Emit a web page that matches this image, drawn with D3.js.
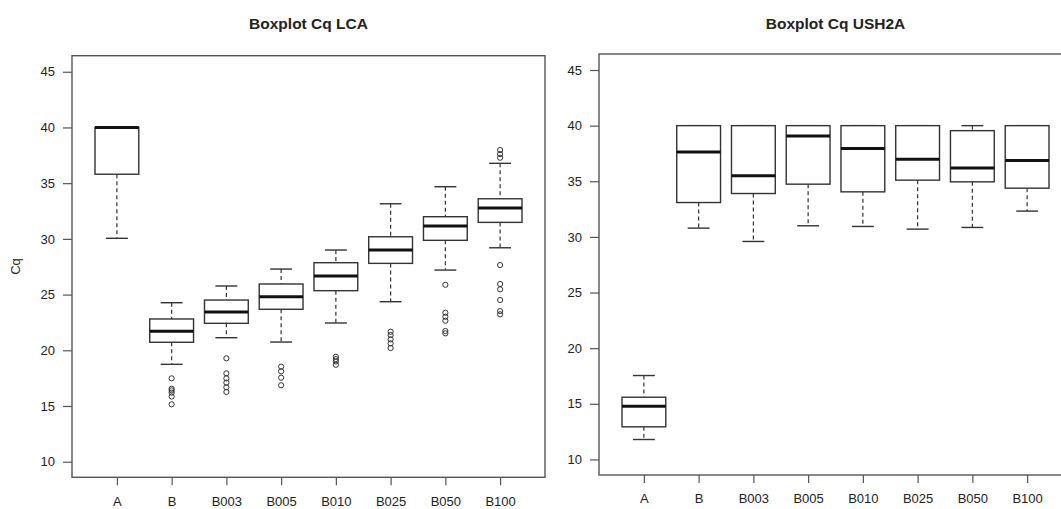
<!DOCTYPE html>
<html>
<head>
<meta charset="utf-8">
<script src="https://cdn.jsdelivr.net/npm/d3@7"></script>
<style>
  html, body { margin: 0; padding: 0; background: #fff; }
  svg { display: block; }
  text { font-family: "Liberation Sans", Arial, sans-serif; fill: #222; }
</style>
</head>
<body>
<svg id="chart" width="1061" height="509"></svg>
<script>
// Sample groups shared by both panels
const categories = ["A", "B", "B003", "B005", "B010", "B025", "B050", "B100"];
const yTicks = [10, 15, 20, 25, 30, 35, 40, 45];

// LCA: five-number summaries (whisker low, Q1, median, Q3, whisker high) and outliers
const lcaLow    = [30.05, 18.74, 21.13, 20.74, 22.45, 24.36, 27.20, 29.20];
const lcaQ1     = [35.80, 20.72, 22.42, 23.68, 25.35, 27.80, 29.87, 31.48];
const lcaMedian = [40.00, 21.70, 23.43, 24.81, 26.66, 29.00, 31.15, 32.77];
const lcaQ3     = [40.00, 22.81, 24.51, 25.95, 27.86, 30.19, 31.99, 33.60];
const lcaHigh   = [40.00, 24.27, 25.77, 27.29, 29.00, 33.15, 34.68, 36.78];
const lcaOutliers = [
  [],
  [17.48, 16.55, 16.40, 16.20, 15.85, 15.15],
  [19.28, 17.93, 17.48, 17.09, 16.68, 16.26],
  [18.53, 18.11, 17.54, 16.86],
  [19.42, 19.20, 19.00, 18.70],
  [21.67, 21.37, 20.98, 20.62, 20.20],
  [25.88, 23.37, 23.01, 22.65, 21.73, 21.52],
  [37.97, 37.61, 37.28, 27.65, 25.95, 25.47, 24.51, 23.52, 23.23]
];

// USH2A: five-number summaries and outliers
const ushLow    = [11.79, 30.79, 29.59, 31.00, 30.94, 30.70, 30.85, 32.32];
const ushQ1     = [12.93, 33.09, 33.90, 34.74, 34.05, 35.10, 34.95, 34.38];
const ushMedian = [14.78, 37.64, 35.49, 39.08, 37.94, 36.98, 36.20, 36.86];
const ushQ3     = [15.59, 40.00, 40.00, 40.00, 40.00, 40.00, 39.55, 40.00];
const ushHigh   = [17.54, 40.00, 40.00, 40.00, 40.00, 40.00, 40.00, 40.00];
const ushOutliers = [[], [], [], [], [], [], [], []];

const svg = d3.select("#chart");

function boxPanel(cfg) {
  const { left, right, top, bottom, title, showYLabel,
          low, q1, median, q3, high, outliers } = cfg;

  const x = d3.scalePoint().domain(categories).range([left, right]).padding(0.82);
  const y = d3.scaleLinear().domain([8.6, 46.44]).range([bottom, top]);

  const step = x.step();
  const boxW = step * 0.8;
  const capW = boxW * 0.5;

  const g = svg.append("g");

  // Title
  g.append("text")
    .attr("x", (left + right) / 2)
    .attr("y", 29)
    .attr("text-anchor", "middle")
    .style("font-size", "15.5px")
    .style("font-weight", "bold")
    .text(title);

  // Y axis
  const yAxis = g.append("g")
    .attr("transform", `translate(${left},0)`)
    .call(d3.axisLeft(y).tickValues(yTicks).tickSize(9).tickPadding(8));
  yAxis.select(".domain").remove();
  yAxis.selectAll("line").attr("stroke", "#555").attr("stroke-width", 1.2);
  yAxis.selectAll("text").style("font-size", "13px").attr("fill", "#222")
    .style("font-family", "'Liberation Sans', Arial, sans-serif");

  // X axis
  const xAxis = g.append("g")
    .attr("transform", `translate(0,${bottom})`)
    .call(d3.axisBottom(x).tickSize(8).tickPadding(11));
  xAxis.select(".domain").remove();
  xAxis.selectAll("line").attr("stroke", "#555").attr("stroke-width", 1.2);
  xAxis.selectAll("text").style("font-size", "13px").attr("fill", "#222")
    .style("font-family", "'Liberation Sans', Arial, sans-serif");

  if (showYLabel) {
    g.append("text")
      .attr("transform", `translate(20,${(top + bottom) / 2}) rotate(-90)`)
      .attr("text-anchor", "middle")
      .style("font-size", "13px")
      .text("Cq");
  }

  const rows = categories.map((c, i) => ({
    c, low: low[i], q1: q1[i], med: median[i], q3: q3[i], high: high[i], out: outliers[i]
  }));

  const box = g.selectAll(".box").data(rows).join("g").attr("class", "box");

  // Whiskers (dashed)
  box.append("line")
    .attr("x1", d => x(d.c)).attr("x2", d => x(d.c))
    .attr("y1", d => y(d.high)).attr("y2", d => y(d.q3))
    .attr("stroke", "#333").attr("stroke-width", 1.2).attr("stroke-dasharray", "4,3");
  box.append("line")
    .attr("x1", d => x(d.c)).attr("x2", d => x(d.c))
    .attr("y1", d => y(d.q1)).attr("y2", d => y(d.low))
    .attr("stroke", "#333").attr("stroke-width", 1.2).attr("stroke-dasharray", "4,3");

  // Staples
  box.append("line")
    .attr("x1", d => x(d.c) - capW / 2).attr("x2", d => x(d.c) + capW / 2)
    .attr("y1", d => y(d.high)).attr("y2", d => y(d.high))
    .attr("stroke", "#333").attr("stroke-width", 1.4);
  box.append("line")
    .attr("x1", d => x(d.c) - capW / 2).attr("x2", d => x(d.c) + capW / 2)
    .attr("y1", d => y(d.low)).attr("y2", d => y(d.low))
    .attr("stroke", "#333").attr("stroke-width", 1.4);

  // Box
  box.append("rect")
    .attr("x", d => x(d.c) - boxW / 2)
    .attr("width", boxW)
    .attr("y", d => y(d.q3))
    .attr("height", d => y(d.q1) - y(d.q3))
    .attr("fill", "#fff")
    .attr("stroke", "#333").attr("stroke-width", 1.4);

  // Median
  box.append("line")
    .attr("x1", d => x(d.c) - boxW / 2).attr("x2", d => x(d.c) + boxW / 2)
    .attr("y1", d => y(d.med)).attr("y2", d => y(d.med))
    .attr("stroke", "#111").attr("stroke-width", 3);

  // Outliers
  box.selectAll("circle").data(d => d.out.map(v => ({ c: d.c, v })))
    .join("circle")
    .attr("cx", d => x(d.c)).attr("cy", d => y(d.v))
    .attr("r", 2.6)
    .attr("fill", "none").attr("stroke", "#333").attr("stroke-width", 1);

  // Plot frame
  g.append("rect")
    .attr("x", left).attr("y", top)
    .attr("width", right - left).attr("height", bottom - top)
    .attr("fill", "none").attr("stroke", "#555").attr("stroke-width", 1.4);
}

boxPanel({
  left: 72, right: 545, top: 55.7, bottom: 477.3,
  title: "Boxplot Cq LCA", showYLabel: true,
  low: lcaLow, q1: lcaQ1, median: lcaMedian, q3: lcaQ3, high: lcaHigh, outliers: lcaOutliers
});

boxPanel({
  left: 599, right: 1072, top: 54, bottom: 475,
  title: "Boxplot Cq USH2A", showYLabel: false,
  low: ushLow, q1: ushQ1, median: ushMedian, q3: ushQ3, high: ushHigh, outliers: ushOutliers
});
</script>
</body>
</html>
